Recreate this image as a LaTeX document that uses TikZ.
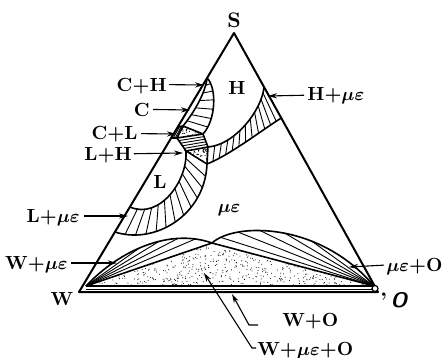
\documentclass[tikz,border=0pt]{standalone}
\usepackage{amsmath}
\usetikzlibrary{arrows.meta,calc}
\begin{document}
\begin{tikzpicture}[x=0.5pt,y=-0.5pt,
  edge/.style={line width=1pt,line join=round},
  bnd/.style={line width=0.8pt},
  tie/.style={line width=0.45pt},
  lbl/.style={font=\fontsize{9.5}{11}\selectfont\bfseries,inner sep=0pt},
  arr/.style={line width=0.55pt,-{Stealth[length=4.5pt,width=2.6pt]}},
  lead/.style={line width=0.55pt}]
\useasboundingbox (0,0) rectangle (444,358);
\pgfmathsetseed{12}
% key points
\coordinate (Sv) at (234,33);
\coordinate (Wv) at (79,292);
\coordinate (Ov) at (378,292);
\coordinate (Wf) at (86,286);
\coordinate (Of) at (374,286);
\coordinate (P) at (212,243);
\coordinate (A) at (207.1,78);
\coordinate (Cc) at (183,126);
\coordinate (Cb) at (177.7,127);
\coordinate (Hc) at (203,134);
\coordinate (Lc) at (177,138);
\coordinate (Lt) at (171.2,138);
\coordinate (N) at (186,151);
\coordinate (D) at (208,147);
\coordinate (G) at (207,164);
\coordinate (E) at (264,87);
\coordinate (F) at (281.3,118);
\coordinate (M) at (129.9,207);
\coordinate (K) at (114.9,232);
% stippled regions
\begin{scope}
  \clip (Wf) -- (P) -- (Of) -- cycle;
  \foreach \k in {1,...,850}{
    \pgfmathsetmacro{\xx}{86+288*rnd}
    \pgfmathsetmacro{\yy}{243+43*rnd}
    \fill (\xx,\yy) circle[radius=0.26pt];
  }
\end{scope}
\begin{scope}
  \clip (Cc) -- (Hc) -- (Lc) -- cycle;
  \foreach \k in {1,...,45}{
    \pgfmathsetmacro{\xx}{177+26*rnd}
    \pgfmathsetmacro{\yy}{126+12*rnd}
    \fill (\xx,\yy) circle[radius=0.3pt];
  }
\end{scope}
\begin{scope}
  \clip (N) -- (D) -- (G) -- cycle;
  \foreach \k in {1,...,90}{
    \pgfmathsetmacro{\xx}{186+22*rnd}
    \pgfmathsetmacro{\yy}{147+17*rnd}
    \fill (\xx,\yy) circle[radius=0.3pt];
  }
\end{scope}
% H + mu-epsilon band
\draw[bnd] (D) .. controls (235,145) and (262,110) .. (E)
  \foreach \i [evaluate=\i as \t using \i/12] in {1,...,11} {coordinate[pos=\t] (hi\i)};
\draw[bnd] (G) .. controls (230,155) and (262,130) .. (F)
  \foreach \i [evaluate=\i as \t using \i/12] in {1,...,11} {coordinate[pos=\t] (ho\i)};
\foreach \i in {1,...,11} \draw[tie] (hi\i) -- (ho\i);
% L + mu-epsilon band
\draw[bnd] (N) .. controls (188,180) and (160,220) .. (M)
  \foreach \i [evaluate=\i as \t using \i/12] in {1,...,11} {coordinate[pos=\t] (li\i)};
\draw[bnd] (G) .. controls (205,215) and (155,245) .. (K)
  \foreach \i [evaluate=\i as \t using \i/12] in {1,...,11} {coordinate[pos=\t] (lo\i)};
\foreach \i in {1,...,11} \draw[tie] (li\i) -- (lo\i);
% C + H band
\draw[bnd] (A) .. controls (205,95) and (192,115) .. (Cc)
  \foreach \i [evaluate=\i as \t using \i/7] in {1,...,6} {coordinate[pos=\t] (ci\i)};
\draw[bnd] (A) .. controls (217,88) and (216,120) .. (Hc)
  \foreach \i [evaluate=\i as \t using \i/7] in {1,...,6} {coordinate[pos=\t] (co\i)};
\foreach \i in {1,...,6} \draw[tie] (ci\i) -- (co\i);
% L + H and C + L tie lines
\foreach \s in {0.2,0.4,0.6,0.8} \draw[tie] ($(Lc)!\s!(N)$) -- ($(Hc)!\s!(D)$);
\foreach \s in {0.35,0.7} \draw[tie] ($(Cb)!\s!(Cc)$) -- ($(Lt)!\s!(Lc)$);
% three-phase boundaries
\draw[bnd] (Cb) -- (Cc) -- (Hc) -- (D) -- (G) -- (N) -- (D);
\draw[bnd] (Cc) -- (Lc) -- (Hc);
\draw[bnd] (Lt) -- (Lc) -- (N);
% lower lenses
\draw[bnd] (Wf) .. controls (120,250) and (170,228) .. (P)
  \foreach \t [count=\i] in {0.45,0.6,0.74,0.87} {coordinate[pos=\t] (la\i)};
\draw[bnd] (P) .. controls (235,222) and (320,222) .. (Of)
  \foreach \t [count=\i] in {0.1,0.24,0.38,0.52,0.66} {coordinate[pos=\t] (ra\i)};
\foreach \i in {1,...,4} \draw[tie] (Wf) -- (la\i);
\foreach \i in {1,...,5} \draw[tie] (Of) -- (ra\i);
\draw[bnd] (Wf) -- (P) -- (Of);
% W + O strip
\coordinate (m1) at (86,289);
\coordinate (m2) at (372,289);
\draw[bnd] (Wf) -- (Of);
\draw[tie] (m1) -- (m2);
% main triangle
\draw[edge] (Sv) -- (Wv) -- (Ov) -- cycle;
\node[circle,draw,fill=white,line width=0.6pt,minimum size=3pt,inner sep=0pt] (oc) at (375,288.5) {};
% labels
\node[lbl,anchor=base] (lS) at (234,28) {\fontsize{10.5}{12}\selectfont S};
\node[lbl,anchor=base] (lH) at (237,94.5) {H};
\node[lbl,anchor=base] (lL) at (160,188.5) {L};
\node[lbl,anchor=base] (lME) at (229,212) {$\boldsymbol{\mu\varepsilon}$};
\node[lbl,anchor=base] (lW) at (62,305) {W};
\node[lbl,anchor=base west] (lO) at (380,307.5) {\fontsize{10.5}{12}\selectfont '\,\sffamily\itshape O};

\node[lbl,anchor=base east] (lCH) at (167,91) {C+H};
\coordinate (tCH) at (204,85);
\draw[arr] (lCH.east) ++(2,-1) coordinate (sCH) -- (tCH);

\node[lbl,anchor=base east] (lC) at (150,117) {C};
\coordinate (tC) at (190,110);
\draw[arr] (lC.east) ++(3,-1) coordinate (sC) -- (tC);

\node[lbl,anchor=base east] (lCL) at (138,140) {C+L};
\coordinate (tCL) at (176,134);
\draw[arr] (lCL.east) ++(3,-1) coordinate (sCL) -- (tCL);

\node[lbl,anchor=base east] (lLH) at (132,160) {L+H};
\coordinate (tLH) at (183,153);
\draw[arr] (lLH.east) ++(2,-1) coordinate (sLH) -- (tLH);

\node[lbl,anchor=base west] (lHM) at (307,101) {H+$\boldsymbol{\mu\varepsilon}$};
\coordinate (tHM) at (268,96);
\draw[arr] (lHM.west) ++(-3,-1) coordinate (sHM) -- (tHM);

\node[lbl,anchor=base east] (lLM) at (80,222) {L+$\boldsymbol{\mu\varepsilon}$};
\coordinate (sLM) at (84,216);
\coordinate (tLM) at (128,216);
\draw[arr] (sLM) -- (tLM);

\node[lbl,anchor=base east] (lWM) at (68,269) {W+$\boldsymbol{\mu\varepsilon}$};
\coordinate (sWM) at (71,263);
\coordinate (tWM) at (117,263);
\draw[arr] (sWM) -- (tWM);

\node[lbl,anchor=base east] (lMO) at (443,271) {$\boldsymbol{\mu\varepsilon}$+O};
\coordinate (tMO) at (349,267);
\draw[arr] (lMO.west) ++(-2,-1) coordinate (sMO) -- (tMO);

\node[lbl,anchor=base west] (lWO) at (282,326) {W+O};
\coordinate (sWO) at (258,325);
\coordinate (kWO) at (249,325);
\coordinate (tWO) at (232,294);
\draw[arr] (sWO) -- (kWO) -- (tWO);

\node[lbl,anchor=base west] (lWMO) at (257,355) {W+$\boldsymbol{\mu\varepsilon}$+O};
\coordinate (sWMO) at (256,348);
\coordinate (kWMO) at (252,348);
\coordinate (tWMO) at (204,273);
\draw[arr] (sWMO) -- (kWMO) -- (tWMO);
\end{tikzpicture}
\end{document}
